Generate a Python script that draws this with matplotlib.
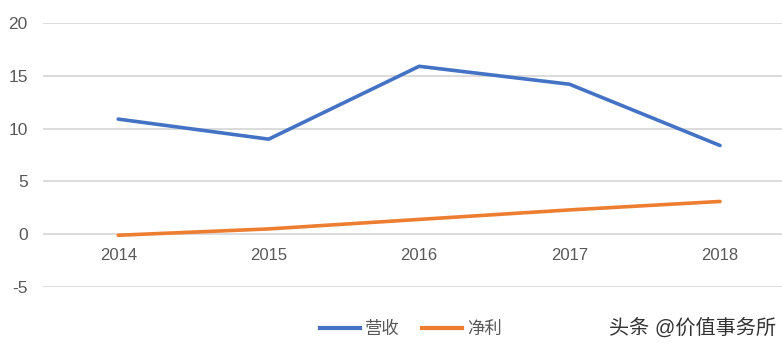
import matplotlib.pyplot as plt
from matplotlib.lines import Line2D

plt.rcParams['font.family'] = ['Liberation Sans', 'Noto Sans CJK SC', 'DejaVu Sans']
plt.rcParams['axes.unicode_minus'] = False

years = ["2014", "2015", "2016", "2017", "2018"]
revenue = [10.9, 9.0, 15.9, 14.2, 8.4]
profit = [-0.1, 0.5, 1.4, 2.3, 3.1]

blue = "#4472C4"
orange = "#ED7D31"
grey = "#595959"

fig = plt.figure(figsize=(7.82, 3.5), dpi=100)
ax = fig.add_axes([43 / 782, 1 - 287 / 350, 1 - 43 / 782, (287 - 23) / 350])

x = list(range(len(years)))
ax.plot(x, revenue, color=blue, linewidth=2.6, solid_capstyle='round', label="营收")
ax.plot(x, profit, color=orange, linewidth=2.6, solid_capstyle='round', label="净利")

ax.set_ylim(-5, 20)
ax.set_yticks([-5, 0, 5, 10, 15, 20])
ax.set_xlim(-0.5, (782 - 118) / 150.5)
ax.grid(axis='y', color="#D9D9D9", linewidth=1.3)
ax.set_axisbelow(True)

for s in ax.spines.values():
    s.set_visible(False)
ax.spines['bottom'].set_position(('data', 0))

ax.set_xticks(x)
ax.set_xticklabels(years)
ax.tick_params(axis='x', length=0, pad=10, labelsize=12, labelcolor=grey)
ax.tick_params(axis='y', length=0, pad=11, labelsize=12.5, labelcolor=grey)

handles = [Line2D([], [], color=blue, linewidth=3),
           Line2D([], [], color=orange, linewidth=3)]
leg = fig.legend(handles, ["营收", "净利"], loc='center', bbox_to_anchor=(411 / 782, 1 - 329 / 350),
                 ncol=2, frameon=False, fontsize=12.5, handlelength=2.3, handletextpad=0.3,
                 columnspacing=1.3)
for t in leg.get_texts():
    t.set_color(grey)

fig.text(776 / 782, 1 - 328 / 350, "头条 @价值事务所", ha='right', va='center',
         fontsize=14.5, color="#333333")

fig.savefig("out.png", dpi=100)
